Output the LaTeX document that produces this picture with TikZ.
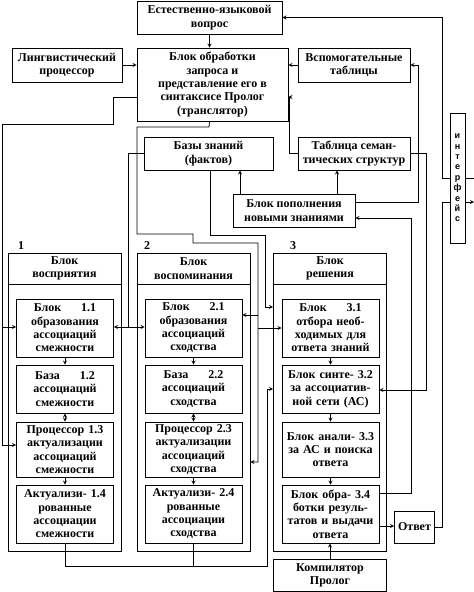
\documentclass[tikz,border=0pt]{standalone}
\usepackage{fontspec}
\setmainfont{Liberation Serif}
\newfontfamily\ifacefont{Liberation Sans}

\begin{document}
\begin{tikzpicture}[>=stealth,x=1pt,y=-1pt,line width=0.8pt,
        every node/.style={font=\fontsize{12}{13.3}\selectfont\bfseries},
        box/.style={draw,align=center,inner sep=0pt},
        colbox/.style={draw,align=center,inner sep=0pt,minimum width=113pt},
        cell/.style={draw,fill=white,align=center,inner sep=0pt,minimum width=97pt,text width=95pt}]
                        \useasboundingbox (0,0) rectangle (474,592);
                        \node[box,minimum width=145pt,minimum height=33pt] (vopros) at(209.5,17.5) {Естественно-языковой\\вопрос};
                        \node[box,minimum width=151pt,minimum height=73pt] (obrab) at(212.5,84.5) {Блок обработки\\запроса и\\представление его в\\синтаксисе Пролог\\(транслятор)};
                        \node[box,minimum width=110pt,minimum height=34pt] (ling) at(67,65) {Лингвистический\\процессор};
                        \node[box,minimum width=112pt,minimum height=34pt] (vspom) at(354,65) {Вспомогательные\\таблицы};
                        \node[box,minimum width=129pt,minimum height=33pt] (bazy) at(208.5,153.5) {Базы знаний\\(фактов)};
                        \node[box,minimum width=112pt,minimum height=33pt] (tabl) at(354,153.5) {Таблица семан-\\тических структур};
                        \node[box,minimum width=122pt,minimum height=33pt] (popoln) at(294,210.5) {Блок пополнения\\новыми знаниями};
                        \node[box,minimum width=15pt,minimum height=130pt,font=\ifacefont\fontsize{9}{10.4}\selectfont\bfseries] (interf) at(457.5,178) {и\\н\\т\\е\\р\\ф\\е\\й\\с};

                        \node[colbox,minimum height=298pt] (col1) at(64.5,402) {};
                        \node[colbox,minimum height=298pt] (col2) at(193.5,402) {};
                        \node[colbox,minimum height=298pt] (col3) at(330,402) {};
                        \node[colbox,minimum height=31pt] (hdr1) at(64.5,268.5) {Блок\\восприятия};
                        \node[colbox,minimum height=31pt] (hdr2) at(193.5,268.5) {Блок\\воспоминания};
                        \node[colbox,minimum height=31pt] (hdr3) at(330,268.5) {Блок\\решения};
                        \node (lab1) at(21,246) {1};
                        \node (lab2) at(147,246) {2};
                        \node (lab3) at(293,246) {3};

                        \node[cell,minimum height=58pt] (b11) at(65,328) {Блок\hspace{20pt}1.1\\образования\\ассоциаций\\смежности};
                        \node[cell,minimum height=48pt] (b12) at(65,389) {База\hspace{20pt}1.2\\ассоциаций\\смежности};
                        \node[cell,minimum height=55pt] (b13) at(65,449.5) {Процессор 1.3\\актуализации\\ассоциаций\\смежности};
                        \node[cell,minimum height=58pt] (b14) at(65,514) {Актуализи- 1.4\\рованные\\ассоциации\\смежности};
                        \node[cell,minimum height=58pt] (b21) at(193.5,328) {Блок\hspace{20pt}2.1\\образования\\ассоциаций\\сходства};
                        \node[cell,minimum height=48pt] (b22) at(193.5,389) {База\hspace{20pt}2.2\\ассоциаций\\сходства};
                        \node[cell,minimum height=55pt] (b23) at(193.5,449.5) {Процессор 2.3\\актуализации\\ассоциаций\\сходства};
                        \node[cell,minimum height=58pt] (b24) at(193.5,514) {Актуализи- 2.4\\рованные\\ассоциации\\сходства};
                        \node[cell,minimum height=58pt] (b31) at(330.5,328) {Блок\hspace{20pt}3.1\\отбора необ-\\ходимых для\\ответа знаний};
                        \node[cell,minimum height=48pt] (b32) at(330.5,389) {Блок синте- 3.2\\за ассоциатив-\\ной сети (АС)};
                        \node[cell,minimum height=55pt] (b33) at(330.5,449.5) {Блок анали- 3.3\\за АС и поиска\\ответа};
                        \node[cell,minimum height=58pt] (b34) at(330.5,514) {Блок обра- 3.4\\ботки резуль-\\татов и выдачи\\ответа};
                        \node[box,minimum width=40pt,minimum height=32pt] (otvet) at(414.5,527) {Ответ};
                        \node[box,minimum width=113pt,minimum height=32.5pt] (komp) at(330,575.5) {Компилятор\\Пролог};

                        \draw [->](vopros.south) -- (vopros.south |- obrab.north);
                        \draw [->](ling) -- (ling -| obrab.west);
                        \draw [->](vspom) -- (vspom -| obrab.east);
                        \draw [->](tabl.west) -- ++(-8,0) |- (obrab.east |- 0,97);
                        \draw [->](popoln.north -| 240,0) -- (bazy.south -| 240,0);
                        \draw [->](popoln.north -| 337,0) -- (tabl.south -| 337,0);
                        \draw [->](popoln.east |- 0,202) -- (418,202) |- (vspom.east);
                        \draw [->](tabl.east) -| (426,390) -- (b32.east |- 0,390);
                        \draw [->](b34.east |- 0,493) -| (411,218) -- (popoln.east |- 0,218);
                        \draw [->](b34.east |- 0,526) -- (otvet.west |- 0,526);
                        \draw (otvet.east) -| (442,202) -- (interf.west |- 0,202);
                        \draw [->](interf.east |- 0,202) -- (474,202);
                        \draw [->](interf.west |- 0,178) -| (442,17.5) -- (vopros.east);
                        \draw (interf.east |- 0,178) -- (474,178);

                        \draw [->](obrab.west |- 0,97) -- (113,97) -- (113,124) -- (2,124) |- (b13.west |- 0,445);
                        \draw [->](2,327) -- (b11.west |- 0,327);
                        \draw [->](bazy.west) -| (128,327) -- (b11.east |- 0,327);
                        \draw [->](128,327) -- (b21.west |- 0,327);
                        \draw [->](obrab.south -| vopros.south) -- (209,127) -- (137,127) -- (137,234) -- (193,234) -- (193,243) -| (258,462) -- (col2.east |- 0,462);
                        \draw [->](258,315) -- (b21.east |- 0,315);
                        \draw [->](258,328) -- (b31.west |- 0,328);
                        \draw [->](bazy.south -| 210,0) -- (210,235) -| (265,307) -- (col3.west |- 0,307);
                        \draw [->](b14.south) -- (65,566) -| (267,389) -- (col3.west |- 0,389);
                        \draw (b24.south) -- (b24.south |- 0,566);

                        \draw [->](b11) -- (b12);
                        \draw [<->](b12) -- (b13);
                        \draw [->](b13) -- (b14);
                        \draw [->](b21) -- (b22);
                        \draw [<->](b22) -- (b23);
                        \draw [->](b23) -- (b24);
                        \draw [->](b31) -- (b32);
                        \draw [->](b32) -- (b33);
                        \draw [->](b33) -- (b34);
                        \draw [->](komp.north) -- (komp.north |- b34.south);
                    \end{tikzpicture}
\end{document}
